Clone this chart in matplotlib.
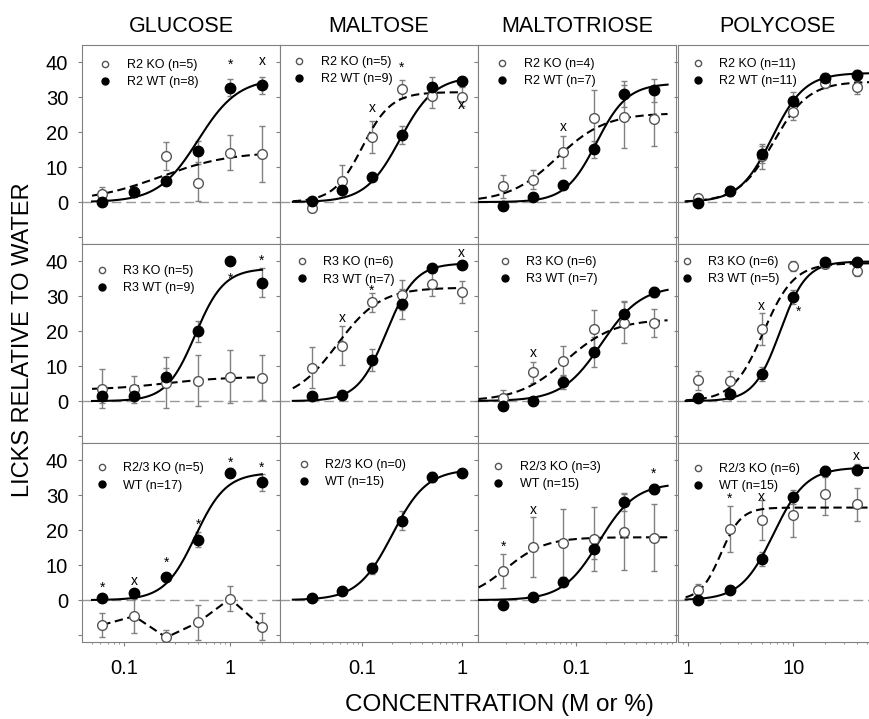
import numpy as np
import matplotlib.pyplot as plt
from matplotlib.lines import Line2D
from matplotlib.ticker import LogLocator, FuncFormatter, NullFormatter

plt.rcParams['font.family'] = ['Liberation Sans', 'DejaVu Sans']

# ---- data -------------------------------------------------------------
sugars = ['GLUCOSE', 'MALTOSE', 'MALTOTRIOSE', 'POLYCOSE']
conc = [
    [0.0625, 0.125, 0.25, 0.5, 1, 2],          # glucose (M)
    [0.03125, 0.0625, 0.125, 0.25, 0.5, 1],    # maltose (M)
    [0.01875, 0.0375, 0.075, 0.15, 0.3, 0.6],  # maltotriose (M)
    [1.25, 2.5, 5, 10, 20, 40],                # polycose (%)
]
nan = np.nan

# row 1 : R2 KO vs R2 WT
ko_mean_r2 = [[2.4, 3.0, 13.2, 5.6, 14.2, 13.7],
              [-1.6, 6.0, 18.7, 32.4, 30.5, 30.2],
              [4.5, 6.4, 14.4, 24.0, 24.5, 23.7],
              [1.2, 3.2, 13.1, 25.9, 34.2, 32.9]]
ko_err_r2 = [[2.0, 1.5, 4.0, 5.4, 5.0, 8.0],
             [1.2, 4.5, 4.5, 2.7, 3.5, 2.8],
             [3.3, 2.7, 4.5, 8.0, 9.0, 7.5],
             [1.0, 1.5, 3.5, 2.5, 1.5, 2.0]]
wt_mean_r2 = [[0.0, 2.9, 6.0, 14.6, 32.8, 33.4],
              [0.3, 3.4, 7.2, 19.2, 32.9, 34.8],
              [-1.2, 1.6, 5.0, 15.1, 31.0, 32.1],
              [-0.2, 3.2, 13.7, 29.1, 35.5, 36.3]]
wt_err_r2 = [[1.0, 1.0, 1.0, 3.0, 2.5, 2.5],
             [0.5, 0.7, 1.0, 2.5, 3.0, 1.0],
             [1.0, 0.7, 1.0, 2.5, 3.7, 3.3],
             [0.5, 1.2, 2.5, 2.5, 1.5, 1.5]]

# row 2 : R3 KO vs R3 WT
ko_mean_r3 = [[3.6, 3.4, 5.3, 5.9, 7.0, 6.7],
              [9.6, 15.9, 28.3, 30.5, 33.4, 31.3],
              [1.0, 8.2, 11.5, 20.6, 22.5, 22.5],
              [6.0, 5.9, 20.7, 38.7, 39.4, 37.4]]
ko_err_r3 = [[5.5, 3.8, 7.3, 7.3, 7.6, 6.5],
             [5.8, 5.5, 2.8, 4.3, 3.3, 3.1],
             [2.2, 3.1, 4.4, 5.5, 5.9, 4.0],
             [2.7, 2.7, 4.6, 1.5, 1.0, 1.5]]
wt_mean_r3 = [[1.4, 1.4, 7.0, 20.0, 40.1, 33.9],
              [1.4, 1.7, 11.8, 27.9, 38.2, 39.1],
              [-1.4, 0.1, 5.6, 14.0, 25.0, 31.3],
              [1.0, 2.0, 7.8, 29.8, 39.8, 39.8]]
wt_err_r3 = [[2.0, 1.2, 2.5, 3.0, 0.0, 4.2],
             [0.8, 1.0, 3.2, 4.3, 1.0, 1.0],
             [1.2, 0.5, 2.0, 4.3, 3.6, 1.5],
             [0.5, 1.0, 2.0, 2.0, 1.0, 1.0]]

# row 3 : R2/3 KO vs WT
ko_mean_r23 = [[-7.1, -4.6, -10.7, -6.4, 0.4, -7.6],
               [nan, nan, nan, nan, nan, nan],
               [8.4, 15.3, 16.4, 17.4, 19.5, 17.9],
               [2.9, 20.4, 23.0, 24.3, 30.5, 27.4]]
ko_err_r23 = [[3.5, 4.8, 2.2, 4.9, 3.6, 3.9],
              [nan, nan, nan, nan, nan, nan],
              [4.8, 8.6, 9.8, 9.2, 10.8, 9.7],
              [1.7, 6.5, 5.7, 6.1, 6.2, 4.8]]
wt_mean_r23 = [[0.7, 2.1, 6.6, 17.3, 36.5, 33.7],
               [0.7, 2.5, 9.1, 22.8, 35.3, 36.5],
               [-1.3, 1.0, 5.3, 14.5, 28.1, 31.8],
               [0.0, 2.9, 11.8, 29.4, 36.9, 37.4]]
wt_err_r23 = [[0.5, 0.7, 1.0, 2.2, 1.3, 2.4],
              [0.7, 0.8, 1.5, 2.7, 1.5, 0.8],
              [0.6, 0.5, 1.3, 2.8, 2.5, 1.5],
              [0.5, 0.8, 2.0, 2.0, 1.5, 1.5]]

# fitted logistic curves: (bottom, top, EC50, hill); None = points joined
wt_fit_r2 = [(0, 35.5, 0.5, 2.3), (0, 36, 0.24, 2.5), (0, 34, 0.16, 2.8), (0, 37, 6.3, 2.8)]
ko_fit_r2 = [(0, 14.5, 0.22, 1.3), (0, 31.5, 0.1, 3.0), (0, 25.5, 0.065, 1.8), (0, 34.5, 6.5, 2.6)]
wt_fit_r3 = [(0, 38, 0.47, 3.2), (0, 39.5, 0.175, 3.0), (0, 33, 0.18, 2.2), (0, 40, 7.5, 3.5)]
ko_fit_r3 = [(3.2, 7.0, 0.25, 1.5), (0, 32.5, 0.056, 2.0), (0, 23.5, 0.08, 1.8), (0, 39.5, 5.2, 3.0)]
wt_fit_r23 = [(0, 36.5, 0.47, 3.0), (0, 37.5, 0.2, 2.5), (0, 33.5, 0.17, 2.4), (0, 38, 6.5, 2.8)]
ko_fit_r23 = [None, None, (0, 18, 0.02, 2.2), (0, 26.5, 2.05, 4.5)]

curve_lo = [0.05, 0.02, 0.0107, 0.95]
curve_hi = [2.0, 1.0, 0.82, 60]

ko_labels = [['R2 KO (n=5)', 'R2 KO (n=5)', 'R2 KO (n=4)', 'R2 KO (n=11)'],
             ['R3 KO (n=5)', 'R3 KO (n=6)', 'R3 KO (n=6)', 'R3 KO (n=6)'],
             ['R2/3 KO (n=5)', 'R2/3 KO (n=0)', 'R2/3 KO (n=3)', 'R2/3 KO (n=6)']]
wt_labels = [['R2 WT (n=8)', 'R2 WT (n=9)', 'R2 WT (n=7)', 'R2 WT (n=11)'],
             ['R3 WT (n=9)', 'R3 WT (n=7)', 'R3 WT (n=7)', 'R3 WT (n=5)'],
             ['WT (n=17)', 'WT (n=15)', 'WT (n=15)', 'WT (n=15)']]

# significance marks (row, col, x, y, text)
notes = [
    (0, 0, 1, 40.3, '*'), (0, 0, 2, 40.3, 'x'),
    (0, 1, 0.125, 26.9, 'x'), (0, 1, 0.25, 39.3, '*'), (0, 1, 1, 27.8, 'x'),
    (0, 2, 0.075, 21.6, 'x'),
    (1, 0, 1, 36.0, '*'), (1, 0, 2, 41.0, '*'),
    (1, 1, 0.0625, 23.8, 'x'), (1, 1, 0.125, 32.4, '*'), (1, 1, 1, 42.3, 'x'),
    (1, 2, 0.0375, 13.9, 'x'),
    (1, 3, 5, 27.3, 'x'), (1, 3, 11.2, 26.5, '*'),
    (2, 0, 0.0625, 4.4, '*'), (2, 0, 0.125, 5.6, 'x'), (2, 0, 0.25, 11.5, '*'),
    (2, 0, 0.5, 22.5, '*'), (2, 0, 1, 40.3, '*'), (2, 0, 2, 38.7, '*'),
    (2, 2, 0.01875, 16.1, '*'), (2, 2, 0.0375, 25.7, 'x'), (2, 2, 0.6, 37.2, '*'),
    (2, 3, 2.5, 30.0, '*'), (2, 3, 5, 29.4, 'x'), (2, 3, 40, 41.2, 'x'),
]

rows = [
    (ko_mean_r2, ko_err_r2, wt_mean_r2, wt_err_r2, ko_fit_r2, wt_fit_r2),
    (ko_mean_r3, ko_err_r3, wt_mean_r3, wt_err_r3, ko_fit_r3, wt_fit_r3),
    (ko_mean_r23, ko_err_r23, wt_mean_r23, wt_err_r23, ko_fit_r23, wt_fit_r23),
]

# ---- layout (pixels of a 870x719 canvas) ------------------------------
W, H = 870, 719
col_left = [82, 280, 478, 678]
row_top = [45, 244, 443]
pw, ph = 198, 199
xlims = [(0.0402, 2.96), (0.01486, 1.46), (0.01055, 0.995), (0.804, 61)]
# legend first-marker offset from panel top-left (px)
leg_pos = [[(23.3, 20), (19.3, 17), (24.3, 19), (19.7, 19)],
           [(20, 26.7), (21.7, 18.3), (27, 18), (9, 18)],
           [(19.7, 25.3), (24, 22), (20.3, 24), (19.7, 26)]]
leg_fs = 9.0            # legend font size (pt)
leg_fs_px = leg_fs * 100 / 72

grey = '#808080'


def logistic(x, p):
    b, t, ec, h = p
    return b + (t - b) / (1 + (ec / x) ** h)


def fmt(v, pos):
    return '%g' % v


fig = plt.figure(figsize=(W / 100, H / 100), dpi=100)

for r in range(3):
    ko_m, ko_e, wt_m, wt_e, ko_f, wt_f = rows[r]
    for c in range(4):
        ax = fig.add_axes([col_left[c] / W, (H - row_top[r] - ph) / H, pw / W, ph / H])
        ax.set_xscale('log')
        ax.set_xlim(*xlims[c])
        ax.set_ylim(-12, 45)
        ax.axhline(0, color='#999999', lw=1.0, dashes=(7, 3.5), zorder=1)

        x = np.array(conc[c])
        xs = np.logspace(np.log10(curve_lo[c]), np.log10(curve_hi[c]), 200)

        # KO (open circles, dashed)
        if ko_f[c] is not None:
            ax.plot(xs, logistic(xs, ko_f[c]), color='black', lw=1.5,
                    dashes=(4, 2.2), zorder=3)
        elif not np.all(np.isnan(ko_m[c])):
            ax.plot(x, ko_m[c], color='black', lw=1.5, dashes=(4, 2.2), zorder=3)
        ax.errorbar(x, ko_m[c], yerr=ko_e[c], fmt='none', ecolor=grey,
                    elinewidth=1, capsize=2.5, capthick=1, zorder=2)
        ax.plot(x, ko_m[c], 'o', ms=7, mfc='white', mec='#555555', mew=1, zorder=4)

        # WT (filled circles, solid)
        ax.plot(xs, logistic(xs, wt_f[c]), color='black', lw=1.5, zorder=3)
        ax.errorbar(x, wt_m[c], yerr=wt_e[c], fmt='none', ecolor=grey,
                    elinewidth=1, capsize=2.5, capthick=1, zorder=2)
        ax.plot(x, wt_m[c], 'o', ms=7.5, color='black', zorder=5)

        # legend
        dx, dy = leg_pos[r][c]
        hl = 0.8
        handles = [Line2D([], [], ls='none', marker='o', ms=4.5, mfc='white', mec='#555555'),
                   Line2D([], [], ls='none', marker='o', ms=5, color='black')]
        pad = (21.5 - hl * leg_fs_px / 2) / leg_fs_px
        ax.legend(handles, [ko_labels[r][c], wt_labels[r][c]], loc='upper left',
                  bbox_to_anchor=((dx - hl * leg_fs_px / 2) / pw, 1 - (dy - 5.8) / ph),
                  frameon=False, fontsize=leg_fs, handlelength=hl,
                  handletextpad=pad, labelspacing=0.4, borderpad=0, borderaxespad=0)

        # axes styling
        for s in ax.spines.values():
            s.set_color(grey)
            s.set_linewidth(0.8)
        ax.set_yticks([-10, 0, 10, 20, 30, 40])
        ax.xaxis.set_major_locator(LogLocator(base=10))
        ax.xaxis.set_minor_locator(LogLocator(base=10, subs=np.arange(2, 10)))
        ax.xaxis.set_minor_formatter(NullFormatter())
        ax.tick_params(axis='both', which='major', direction='out', length=3,
                       color=grey, width=0.8, labelsize=14.5)
        ax.tick_params(axis='x', which='minor', direction='out', length=1.5,
                       color=grey, width=0.6)
        ax.tick_params(axis='x', pad=9)
        ax.tick_params(axis='y', pad=7)
        if c == 0:
            ax.set_yticklabels(['', '0', '10', '20', '30', '40'])
        else:
            ax.set_yticklabels([])
        if r == 2:
            ax.xaxis.set_major_formatter(FuncFormatter(fmt))
        else:
            ax.xaxis.set_major_formatter(NullFormatter())
        if r == 0:
            ax.set_title(sugars[c], fontsize=15.5, pad=9)

        for (nr, nc, nx, ny, t) in notes:
            if nr == r and nc == c:
                off = -0.9 if t == '*' else 0
                ax.text(nx, ny + off, t, ha='center', va='center', fontsize=10, zorder=6)

fig.text(23 / W, (H - 340) / H, 'LICKS RELATIVE TO WATER', rotation=90,
         ha='center', va='center', fontsize=17)
fig.text(499 / W, (H - 705) / H, 'CONCENTRATION (M or %)',
         ha='center', va='center', fontsize=17.5)

plt.savefig('out.png', dpi=100)
